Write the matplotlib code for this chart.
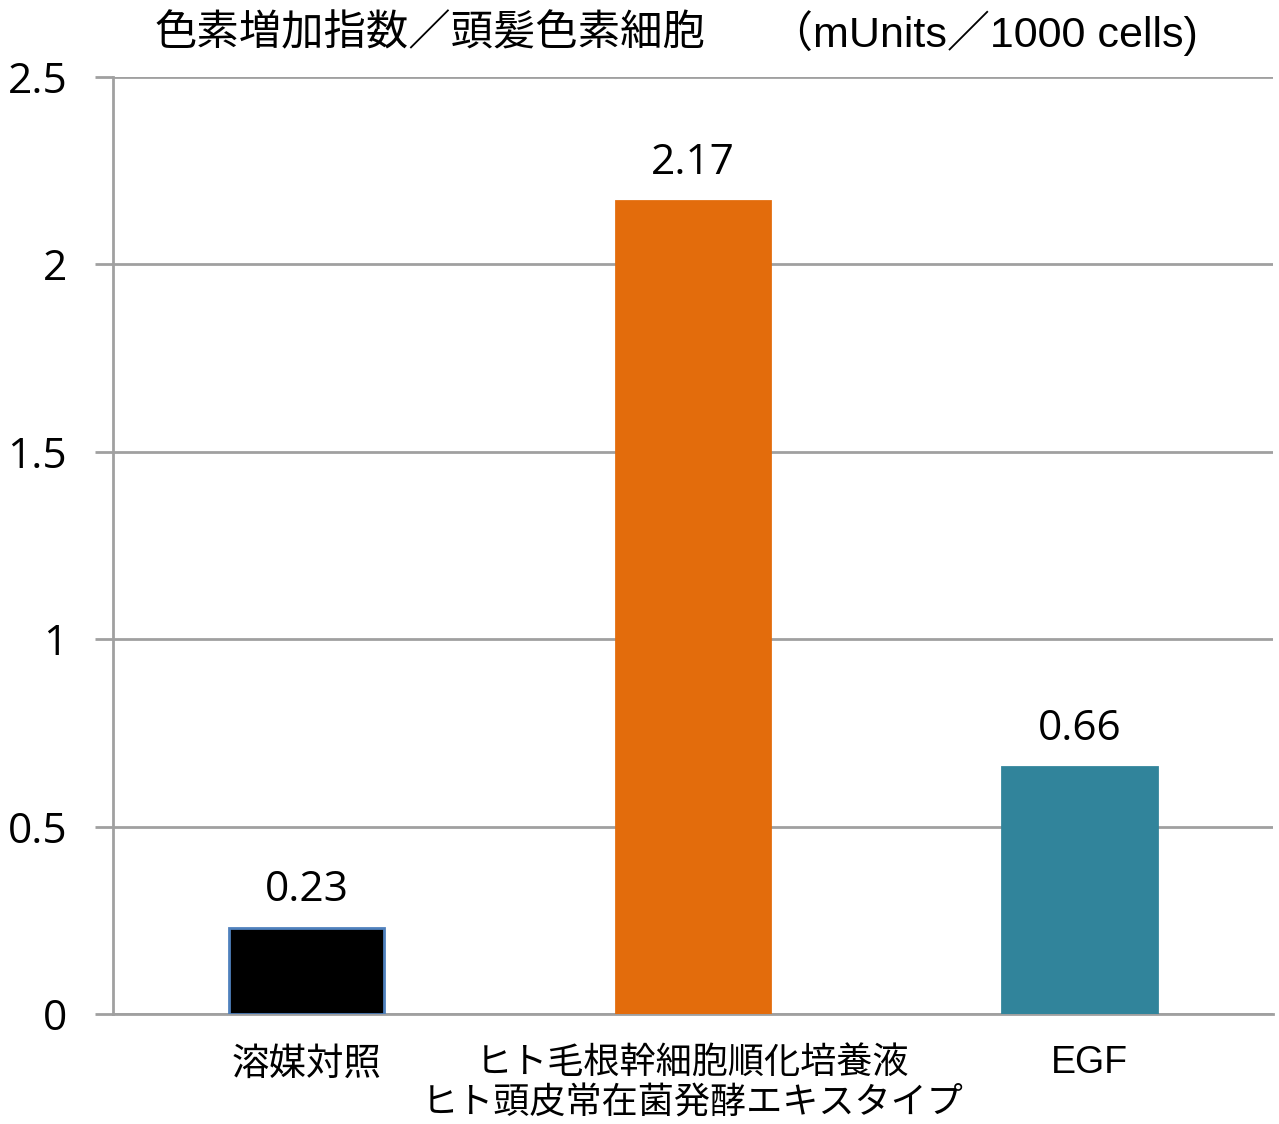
import matplotlib
matplotlib.use("Agg")
import matplotlib.pyplot as plt
import matplotlib.transforms as mtransforms

categories = ["溶媒対照", "ヒト毛根幹細胞順化培養液\nヒト頭皮常在菌発酵エキスタイプ", "EGF"]
values = [0.23, 2.17, 0.66]
value_labels = ["0.23", "2.17", "0.66"]
bar_colors = ["#000000", "#E36C0C", "#31849B"]
edge_colors = ["#4F81BD", "#E36C0C", "#31849B"]
yticks = [0, 0.5, 1, 1.5, 2, 2.5]
ytick_labels = ["0", "0.5", "1", "1.5", "2", "2.5"]

plt.rcParams['font.family'] = ['Noto Sans CJK JP', 'DejaVu Sans']

fig = plt.figure(figsize=(12.79, 11.24), dpi=100)
ax = fig.add_axes([0.0884, 0.0979, 0.9069, 0.8336])

x = range(len(categories))
ax.bar(x, values, width=0.4, color=bar_colors, edgecolor=edge_colors, linewidth=2, zorder=3)
for i, v in enumerate(values):  # value labels above bars
    ax.text(i, v + 0.045, value_labels[i], ha="center", va="bottom", fontsize=30.5, family="Open Sans")

ax.set_xlim(-0.5, 2.5)
ax.set_ylim(0, 2.5)
ax.set_yticks(yticks)
ax.set_yticklabels(ytick_labels, fontsize=30.5, family="Open Sans")
ax.yaxis.grid(True, color="#A0A0A0", linewidth=2, zorder=0)
ax.set_axisbelow(True)
ax.tick_params(axis="y", length=13, width=2, color="#A0A0A0", pad=20)
ax.tick_params(axis="x", length=0, pad=22)
ax.set_xticks(list(x))
ax.set_xticklabels(categories, fontsize=26, linespacing=1.17)
ax.get_xticklabels()[0].set_fontsize(27)
egf = ax.get_xticklabels()[2]
egf.set_family("Liberation Sans")
egf.set_fontsize(27)
# EGF label sits a bit right of bar centre in the original
egf.set_transform(egf.get_transform() + mtransforms.ScaledTranslation(10 / 100, 0, fig.dpi_scale_trans))
for s in ["top", "right"]:
    ax.spines[s].set_visible(False)
for s in ["left", "bottom"]:
    ax.spines[s].set_color("#A0A0A0")
    ax.spines[s].set_linewidth(2)

fig.text(155 / 1279, 1 - 33 / 1124, "色素増加指数／頭髪色素細胞", fontsize=30.5, va="center", ha="left")
fig.text(770 / 1279, 1 - 33 / 1124, "（mUnits／1000 cells)", fontsize=31, va="center", ha="left",
         family=["Liberation Sans", "Noto Sans CJK JP"])

fig.savefig("out.png", dpi=100)
